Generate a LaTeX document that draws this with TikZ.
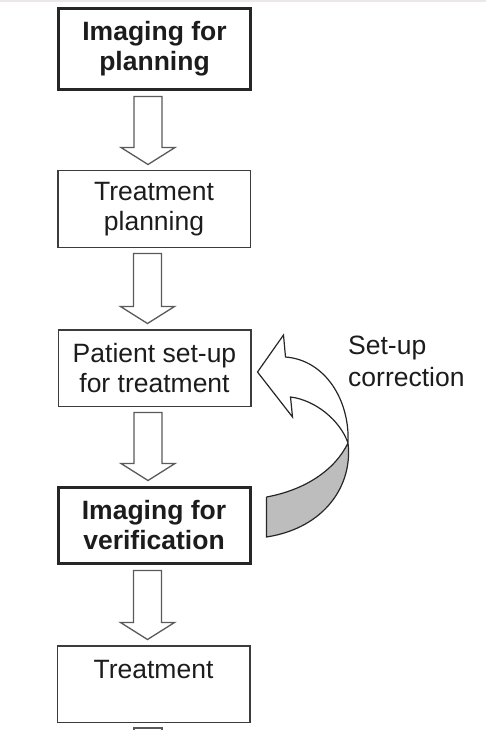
\documentclass[tikz,border=0pt]{standalone}
\usepackage{fontspec}
\setmainfont{Liberation Sans}
\usetikzlibrary{calc}
\definecolor{boxline}{HTML}{262626}
\definecolor{thinline}{HTML}{3C3C3C}
\definecolor{arrline}{HTML}{5A5A5A}
\definecolor{txt}{HTML}{1C1C1C}
\definecolor{ribbon}{HTML}{BDBDBD}
\definecolor{topband}{HTML}{ECE7E9}
\tikzset{
  boxtext/.style={font=\fontsize{26.5}{30}\selectfont, text=txt, align=center, inner sep=0pt},
  lowtext/.style={execute at begin node={\rule{0pt}{23pt}}},
  thickbox/.style={boxtext, lowtext, draw=boxline, line width=3pt, minimum width=192, font=\fontsize{26.5}{30}\selectfont\bfseries},
  thinbox/.style={boxtext, draw=thinline, line width=1.5pt, minimum width=192.5, minimum height=76.5},
  blockarrow/.style={draw=arrline, line width=1.3pt, fill=white, line join=miter},
  curvearrow/.style={draw=boxline, line width=1.2pt, line join=miter},
  labeltext/.style={font=\fontsize{26.5}{32}\selectfont, text=txt, align=left, inner sep=0pt}
}
\newcommand\blockarr[2]{%
  \draw[blockarrow] let \p1=($(#1.south)+(-6.5,5.5)$), \p2=($(#2.north)+(-6.5,-5.5)$) in
    (\x1-14pt,\y1) -- (\x1+14pt,\y1) -- (\x1+14pt,\y2+17pt) -- (\x1+27pt,\y2+17pt)
    -- (\x1,\y2) -- (\x1-27pt,\y2+17pt) -- (\x1-14pt,\y2+17pt) -- cycle;}
\begin{document}
\begin{tikzpicture}[x=1pt,y=-1pt]
\useasboundingbox (0,0) rectangle (486,730);
\fill[topband] (0,0) rectangle (486,2.5);
% boxes
\node[thickbox, minimum height=81] (b1) at (154.5,49) {Imaging for\\planning};
\node[thinbox, lowtext] (b2) at (154,209) {Treatment\\planning};
\node[thinbox, lowtext] (b3) at (154.5,368) {Patient set-up\\for treatment};
\node[thickbox, minimum height=76] (b4) at (154,525.5) {Imaging for\\verification};
\node[thinbox] (b5) at (153.5,684) {Treatment\\\mbox{}};
% block arrows
\blockarr{b1}{b2}
\blockarr{b2}{b3}
\blockarr{b3}{b4}
\blockarr{b4}{b5}
% start of next arrow, cut by the page edge
\begin{scope}
\clip (0,0) rectangle (486,730);
\draw[blockarrow] ($(b5.south)+(-19.5,5)$) rectangle ($(b5.south)+(8.5,30)$);
\end{scope}
% curved set-up correction arrow
\coordinate (tip) at ($(b3.east)+(6,4)$);
\coordinate (W1) at ($(tip)+(26,-37)$);
\coordinate (B1) at ($(tip)+(28,-15)$);
\coordinate (B2) at ($(tip)+(33,25)$);
\coordinate (W2) at ($(tip)+(35,45)$);
\coordinate (TT) at ($(b4.east)+(15,-28.5)$);
\coordinate (TB) at ($(b4.east)+(15,11.5)$);
\coordinate (C) at (348,443);
\fill[ribbon] (C) .. controls (335,470) and (305,490) .. (TT) -- (TB)
   .. controls (325,528) and (353,485) .. (C) -- cycle;
\draw[curvearrow] (TT) -- (TB) .. controls (325,528) and (353,485) .. (C)
   .. controls (350,400) and (325,360) .. (B1) -- (W1) -- (tip) -- (W2) -- (B2)
   .. controls (315,400) and (340,420) .. (C)
   .. controls (335,470) and (305,490) .. (TT);
\node[labeltext, anchor=north west] (lab) at (348,336) {Set-up\\correction};
\end{tikzpicture}
\end{document}
